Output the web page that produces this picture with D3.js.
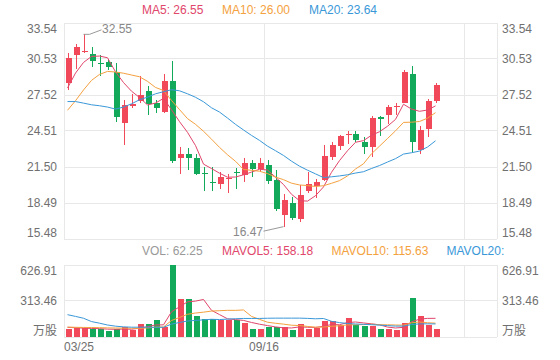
<!DOCTYPE html>
<html><head><meta charset="utf-8">
<script src="https://cdn.jsdelivr.net/npm/d3@7/dist/d3.min.js"></script>
<style>html,body{margin:0;padding:0;background:#fff;} svg{display:block;font-family:"Liberation Sans",Arial,"Noto Sans CJK SC",sans-serif;}</style>
</head><body><svg id="c" width="560" height="360"></svg>
<script>
// ---- data (weekly candles) ----
const opens  = [28.52,30.86,31.05,30.92,30.17,30.20,29.36,25.13,26.58,26.99,27.83,26.80,26.03,28.61,22.25,22.54,22.25,20.93,20.22,20.00,20.47,21.02,20.81,21.77,21.27,21.64,20.39,17.46,18.49,17.10,19.41,19.89,20.39,22.29,23.23,24.13,24.21,23.54,23.17,25.68,25.82,26.53,26.85,29.25,22.90,24.63,26.99];
const closes = [30.56,31.48,31.15,30.36,30.12,29.86,25.60,26.66,26.74,27.50,26.74,26.38,28.61,22.00,22.54,22.25,20.86,20.85,20.14,20.61,20.56,20.94,21.78,21.28,21.78,20.25,17.94,18.72,17.19,19.13,20.05,20.20,22.39,23.31,24.01,24.18,23.73,23.09,25.55,25.49,26.47,26.59,29.44,23.51,24.57,26.99,28.33];
const highs  = [30.98,31.76,32.55,31.53,30.84,30.42,30.15,27.08,27.58,29.08,28.25,27.08,29.25,30.36,23.17,23.04,22.56,21.50,21.45,21.08,20.89,21.35,22.20,22.06,22.23,22.02,21.17,19.22,18.94,19.97,21.00,20.45,23.31,23.51,24.15,24.43,24.43,23.96,25.74,25.72,26.66,26.80,29.59,29.92,24.90,27.14,28.52];
const lows   = [27.91,29.64,30.98,29.86,29.03,29.59,25.18,23.31,26.41,26.85,25.82,25.98,25.97,21.78,20.86,21.22,20.80,19.41,19.41,19.64,19.28,19.64,20.22,20.66,21.06,20.01,17.74,16.47,16.99,16.90,19.28,18.86,20.25,22.06,22.90,23.40,23.51,22.54,22.29,24.01,25.07,25.82,26.80,22.75,22.56,23.96,26.80];
const volumes = [69.3,72.7,72.7,64,64,46.8,66.7,81.4,58,110,110,144.6,84,626.91,326.5,326.5,176.7,156,153,142,142,142,121,64,66.7,81.4,84,81.4,58,112.6,66.7,75.3,133.4,133.4,104,162,98.7,92,95,62,62,60,120,335,178,96,62.25];
// moving-average values before a full window exists
const ma5Lead  = [28.06,29.31,30.20,30.70];
const ma10Lead = [26.2,27.0,27.9,28.7,29.2,29.45,29.4,29.3,29.15];
const ma20Lead = [26.93,26.93,26.80,26.66,26.58,26.47,26.30,26.47,26.74,27.08,27.30,27.58,27.75,27.92,27.83,27.58,27.29,26.91,26.41];
const mavol5Lead  = [80,76,73,70];
const mavol10Lead = [82,80,79,78,77,75,74,73,72];
const mavol20Lead = [190,175,159,130,116,100,90,84,81,81,81,80,80,108,122,135,140,145,150];
// axis ticks and labels
const priceTicks = [15.48,18.49,21.50,24.51,27.52,30.53,33.54];
const volTicks = [0,313.46,626.91];
const volTickLabels = ["万股","313.46","626.91"];
const xTickIndex = [0,25,50];
const xTickLabels = ["03/25","09/16",""];
const maLegend = [["MA5: 26.55","ma5"],["MA10: 26.00","ma10"],["MA20: 23.64","ma20"]];
const volLegend = [["VOL: 62.25","vol"],["MAVOL5: 158.18","ma5"],["MAVOL10: 115.63","ma10"],["MAVOL20:","ma20"]];
const maxLabel = "32.55", minLabel = "16.47";

// ---- styles ----
const C = {up:"#f2495a", down:"#13a95b", ma5:"#e1466b", ma10:"#f4a140", ma20:"#3a98d8", vol:"#999", grid:"#e8e8e8", txt:"#707070"};
const L = 64, R = 497, PT = 22.5, PB = 238.5, VT = 264.5, VB = 336.5;

const svg = d3.select("#c");
const x = d3.scaleLinear().domain([0,54]).range([64,496]);
const cx = i => x(i) + 3.5;
const bw = 6;
const y = d3.scaleLinear().domain([priceTicks[0], priceTicks[priceTicks.length-1]]).range([PB, PT]);
const yv = d3.scaleLinear().domain([0, 626.91]).range([VB, VT]);

function ma(vals, n, lead){ return vals.map((v,i)=> i < n-1 ? lead[i] : d3.mean(vals.slice(i-n+1,i+1))); }
const idx = d3.range(closes.length);

// grids
const g = svg.append("g").attr("shape-rendering","crispEdges");
g.selectAll(".hp").data(priceTicks).join("line").attr("x1",L).attr("x2",R).attr("y1",d=>Math.round(y(d))+0.5).attr("y2",d=>Math.round(y(d))+0.5).attr("stroke",C.grid);
g.selectAll(".hv").data(volTicks).join("line").attr("x1",L).attr("x2",R).attr("y1",d=>Math.round(yv(d))+0.5).attr("y2",d=>Math.round(yv(d))+0.5).attr("stroke",C.grid);
const vx = xTickIndex.map(i=>Math.round(x(i))+0.5).concat([R+0.5]);
g.selectAll(".vp").data(vx).join("line").attr("x1",d=>d).attr("x2",d=>d).attr("y1",PT).attr("y2",PB).attr("stroke",C.grid);
g.selectAll(".vv").data(vx).join("line").attr("x1",d=>d).attr("x2",d=>d).attr("y1",VT).attr("y2",VB).attr("stroke",C.grid);

// axis labels
function sideLabels(ticks, labels, sc, top, bottom){
  ticks.forEach((t,k)=>{
    const yy = sc(t);
    let base;
    if (Math.abs(yy-top)<1) base = yy+10.5; else if (Math.abs(yy-bottom)<1) base = yy-1.5; else base = yy+4.3;
    [[57,"end"],[502,"start"]].forEach(([xx,anc])=>{
      svg.append("text").attr("x",xx).attr("y",base).attr("text-anchor",anc).attr("font-size",12).attr("fill",C.txt).text(labels[k]);
    });
  });
}
sideLabels(priceTicks, priceTicks.map(d=>d.toFixed(2)), y, PT, PB);
sideLabels(volTicks, volTickLabels, yv, VT, VB);
xTickIndex.forEach((i,k)=>{
  svg.append("text").attr("x", i===0 ? x(i) : x(i)).attr("y",350.5).attr("text-anchor", i===0?"start":"middle").attr("font-size",12).attr("fill",C.txt).text(xTickLabels[k]);
});

// candles
const cg = svg.append("g").attr("shape-rendering","crispEdges");
const col = i => closes[i] >= opens[i] ? C.up : C.down;
cg.selectAll(".w").data(idx).join("line").attr("x1",i=>Math.round(cx(i))+0.5).attr("x2",i=>Math.round(cx(i))+0.5).attr("y1",i=>y(highs[i])).attr("y2",i=>y(lows[i])).attr("stroke",col);
cg.selectAll(".b").data(idx).join("rect").attr("x",i=>Math.round(cx(i))-2.5).attr("width",bw)
  .attr("y",i=>y(Math.max(opens[i],closes[i]))).attr("height",i=>Math.max(1, Math.abs(y(opens[i])-y(closes[i])))).attr("fill",col);

// volume bars
cg.selectAll(".v").data(idx).join("rect").attr("x",i=>Math.round(cx(i))-2.5).attr("width",bw)
  .attr("y",i=>yv(volumes[i])).attr("height",i=>VB-yv(volumes[i])).attr("fill",col);

// MA lines
const lp = d3.line().x((d,i)=>cx(i)).y(d=>y(d));
const lv = d3.line().x((d,i)=>cx(i)).y(d=>yv(d));
[[ma(closes,5,ma5Lead),C.ma5],[ma(closes,10,ma10Lead),C.ma10],[ma(closes,20,ma20Lead),C.ma20]].forEach(([d,c])=>{
  svg.append("path").datum(d).attr("d",lp).attr("fill","none").attr("stroke",c).attr("stroke-width",1);
});
[[ma(volumes,5,mavol5Lead),C.ma5],[ma(volumes,10,mavol10Lead),C.ma10],[ma(volumes,20,mavol20Lead),C.ma20]].forEach(([d,c])=>{
  svg.append("path").datum(d).attr("d",lv).attr("fill","none").attr("stroke",c).attr("stroke-width",1);
});

// max / min annotations
const iMax = d3.maxIndex(highs), iMin = d3.minIndex(lows);
svg.append("path").attr("d",`M${cx(iMax)},${y(highs[iMax])}L${cx(iMax)+6},${y(highs[iMax])}L${cx(iMax)+18},${y(highs[iMax])-4.5}`).attr("fill","none").attr("stroke","#999");
svg.append("text").attr("x",cx(iMax)+18.5).attr("y",y(highs[iMax])-1).attr("font-size",12).attr("fill","#888").text(maxLabel);
svg.append("path").attr("d",`M${cx(iMin)},${y(lows[iMin])}L${cx(iMin)-20},${y(lows[iMin])+4.5}`).attr("fill","none").attr("stroke","#999");
svg.append("text").attr("x",cx(iMin)-20.5).attr("y",y(lows[iMin])+9).attr("text-anchor","end").attr("font-size",12).attr("fill","#888").text(minLabel);

// legends
const legX = [142,222,309];
maLegend.forEach(([t,k],j)=> svg.append("text").attr("x",legX[j]).attr("y",14.3).attr("font-size",12).attr("fill",C[k]).text(t));
const vlegX = [142,222,331.5,446.5];
volLegend.forEach(([t,k],j)=> svg.append("text").attr("x",vlegX[j]).attr("y",255).attr("font-size",12).attr("fill",C[k]).text(t));
</script></body></html>
